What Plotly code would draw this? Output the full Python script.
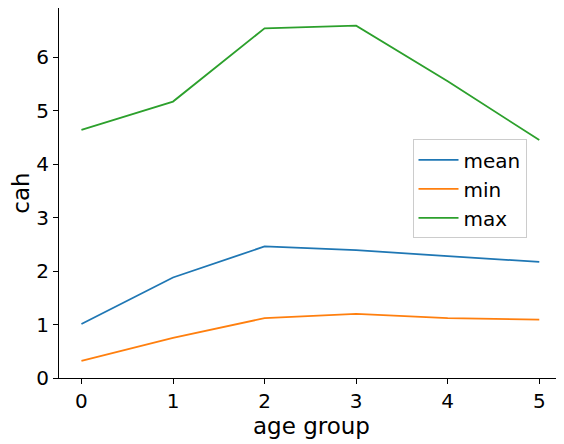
import plotly.graph_objects as go

age_group = [0, 1, 2, 3, 4, 5]
mean_vals = [1.01, 1.88, 2.46, 2.39, 2.28, 2.17]
min_vals = [0.32, 0.75, 1.12, 1.20, 1.12, 1.09]
max_vals = [4.64, 5.17, 6.54, 6.59, 5.55, 4.45]

fig = go.Figure()
for name, vals, col in [("mean", mean_vals, "#1f77b4"), ("min", min_vals, "#ff7f0e"), ("max", max_vals, "#2ca02c")]:
    fig.add_trace(go.Scatter(x=age_group, y=vals, mode="lines", name=name, line=dict(color=col, width=1.8)))

ax = dict(showline=True, mirror=True, linecolor="black", linewidth=1, ticks="outside",
          ticklen=5, tickcolor="black", showgrid=False, zeroline=False, tickfont=dict(size=20))
fig.update_layout(
    width=564, height=444, margin=dict(l=51, r=8, t=0, b=74),
    plot_bgcolor="white", paper_bgcolor="white",
    font=dict(family="DejaVu Sans", size=19, color="black"),
    xaxis=dict(ax, range=[-0.245, 5.27], tickvals=age_group, title=dict(text="age group", standoff=4)),
    yaxis=dict(ax, range=[0, 6.92], tickvals=[0, 1, 2, 3, 4, 5, 6], title=dict(text="cah", standoff=6)),
    legend=dict(x=0.70, y=0.645, xanchor="left", yanchor="top", bordercolor="#cccccc", borderwidth=1,
                bgcolor="rgba(255,255,255,0.8)", font=dict(size=20), itemwidth=40),
)
fig.write_html("out.html")
